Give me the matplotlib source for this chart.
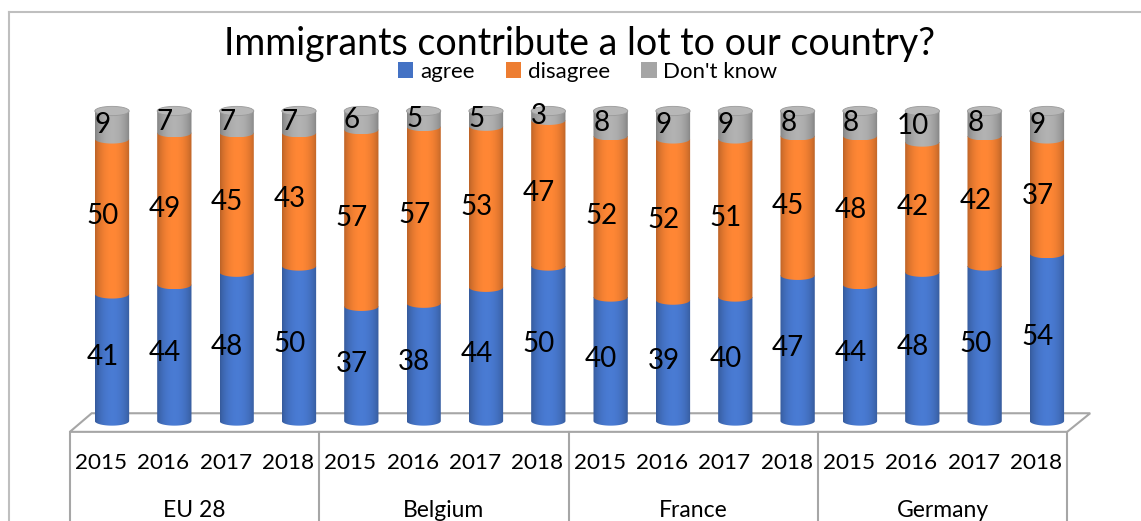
import numpy as np
import matplotlib
matplotlib.use('Agg')
import matplotlib.pyplot as plt
from matplotlib.path import Path
from matplotlib.patches import PathPatch, Ellipse, Rectangle, Polygon
from matplotlib.lines import Line2D

plt.rcParams['font.family'] = ['Lato', 'DejaVu Sans']

# Data
groups = ['EU 28', 'Belgium', 'France', 'Germany']
years = ['2015', '2016', '2017', '2018']
agree = [41, 44, 48, 50, 37, 38, 44, 50, 40, 39, 40, 47, 44, 48, 50, 54]
disagree = [50, 49, 45, 43, 57, 57, 53, 47, 52, 52, 51, 45, 48, 42, 42, 37]
dont_know = [9, 7, 7, 7, 6, 5, 5, 3, 8, 9, 9, 8, 8, 10, 8, 9]

series = [agree, disagree, dont_know]
names = ['agree', 'disagree', "Don't know"]
colors = ['#4472C4', '#ED7D31', '#A5A5A5']

fig = plt.figure(figsize=(11.41, 5.21), dpi=100)
ax = fig.add_axes([0, 0, 1, 1])
# x: bar index, 62.33 px per unit, bar 0 at px 112
# y: percent, 3.1 px per unit, 0 at px 421 from top
ax.set_xlim(-112 / 62.33, (1141 - 112) / 62.33)
ax.set_ylim(-(521 - 421) / 3.1, 421 / 3.1)
ax.axis('off')

bar_w = 0.55
eb = 1.5        # half height of ellipse (data units)
shift = 0.176   # depth shift between bar plane and front plane


def shade_img(color, n=60):
    rgb = np.array(matplotlib.colors.to_rgb(color))
    u = np.linspace(0, 1, n)
    f = 0.68 + 0.4 * np.sin(np.pi * (u * 0.92 + 0.04)) ** 0.6
    img = np.clip(rgb[None, :] * f[:, None], 0, 1)
    return img[None, :, :]


def segment_path(xc, y0, y1):
    t = np.linspace(np.pi, 2 * np.pi, 40)
    arc = np.column_stack([xc + bar_w / 2 * np.cos(t), y0 + eb * np.sin(t)])
    verts = np.vstack([[xc - bar_w / 2, y1], arc, [xc + bar_w / 2, y1], [xc - bar_w / 2, y1]])
    return Path(verts, closed=True)


# floor
n = len(agree)
fl, fr = -0.5 - shift, n - 0.5 - shift
floor = Polygon([[fl, -3.5], [fr, -3.5], [fr + 0.37, 2.5], [fl + 0.35, 2.5]],
                closed=True, facecolor='white', edgecolor='#A6A6A6', lw=1.5, zorder=1)
ax.add_patch(floor)

for i in range(n):
    total = sum(s[i] for s in series)  # 100% stacked
    base = 0
    for k, vals in enumerate(series):
        y0, y1 = base, base + vals[i] * 100 / total
        patch = PathPatch(segment_path(i, y0, y1), facecolor='none', edgecolor='none')
        ax.add_patch(patch)
        im = ax.imshow(shade_img(colors[k]), extent=(i - bar_w / 2, i + bar_w / 2, y0 - eb, y1),
                       aspect='auto', interpolation='bilinear', zorder=2 + k * 0.1)
        im.set_clip_path(patch)
        ax.text(i - 0.15, (y0 + y1) / 2, str(vals[i]), ha='center', va='center',
                fontsize=20, color='black', zorder=5)
        base = y1
    ax.add_patch(Ellipse((i, base), bar_w, 2 * eb, facecolor='#B7B7B7',
                         edgecolor='#9A9A9A', lw=0.6, zorder=3))

# category axis
for j in range(len(groups) + 1):
    xs = -0.5 - shift + 4 * j
    ax.plot([xs, xs], [-3.5, -40], color='#A6A6A6', lw=1.5, clip_on=False, zorder=1)
for i in range(n):
    ax.text(i - shift, -13.5, years[i % 4], ha='center', va='center', fontsize=16.2)
for j, g in enumerate(groups):
    ax.text(4 * j + 1.5 - shift, -29, g, ha='center', va='center', fontsize=16.5)

# chart border
fig.add_artist(Line2D([9 / 1141, 9 / 1141], [0, 1 - 12 / 521], color='#BFBFBF', lw=1.5))
fig.add_artist(Line2D([9 / 1141, 1], [1 - 12 / 521, 1 - 12 / 521], color='#BFBFBF', lw=1.5))

fig.text(0.508, 1 - 44 / 521, 'Immigrants contribute a lot to our country?', ha='center',
         va='center', fontsize=27)
handles = [Rectangle((0, 0), 1, 1, facecolor=c) for c in colors]
fig.legend(handles, names, loc='center', bbox_to_anchor=(0.515, 1 - 72 / 521), ncol=3,
           frameon=False, fontsize=16, handlelength=0.7, handleheight=0.7,
           handletextpad=0.3, columnspacing=1.4, borderpad=0)

fig.savefig('out.png', dpi=100)
